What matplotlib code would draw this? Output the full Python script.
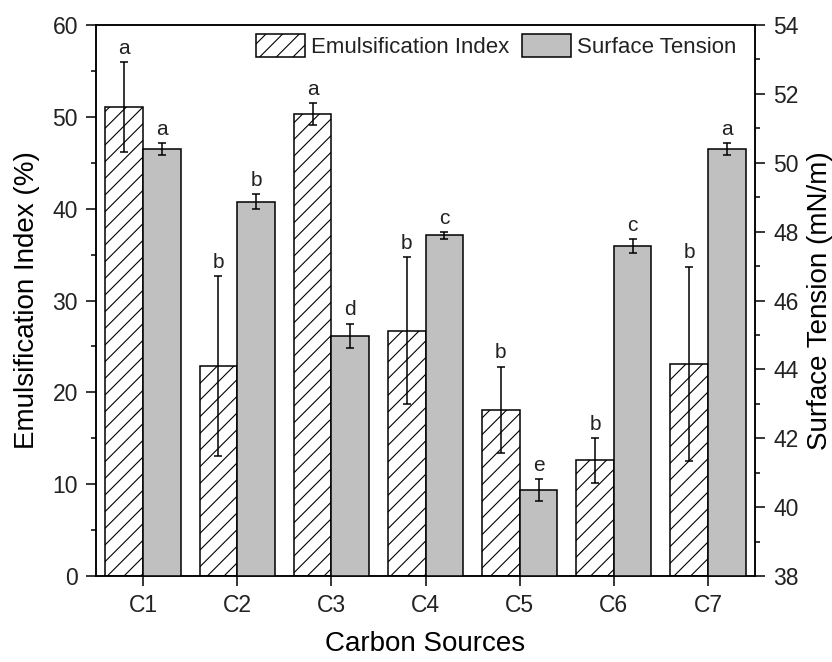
import matplotlib.pyplot as plt
import numpy as np

plt.rcParams['font.family'] = ['Liberation Sans', 'DejaVu Sans']
plt.rcParams['hatch.linewidth'] = 0.8
plt.rcParams['text.color'] = '#222222'

sources = ['C1', 'C2', 'C3', 'C4', 'C5', 'C6', 'C7']
emul_index = [51.1, 22.9, 50.3, 26.7, 18.1, 12.6, 23.1]
emul_err = [4.9, 9.8, 1.2, 8.0, 4.7, 2.45, 10.6]
surf_tension = [50.4, 48.87, 44.97, 47.89, 40.5, 47.58, 50.41]
surf_err = [0.17, 0.21, 0.36, 0.10, 0.31, 0.21, 0.17]
emul_letters = ['a', 'b', 'a', 'b', 'b', 'b', 'b']
surf_letters = ['a', 'b', 'd', 'c', 'e', 'c', 'a']

x = np.arange(1, len(sources) + 1)
w = 0.4

fig = plt.figure(figsize=(8.32, 6.62), dpi=100)
ax = fig.add_axes([0.1154, 0.1299, 0.7921, 0.8323])
ax2 = ax.twinx()

b1 = ax.bar(x - w/2, emul_index, w, color='white', edgecolor='black', hatch='//',
            linewidth=1.1, label='Emulsification Index')
ax.errorbar(x - w/2, emul_index, yerr=emul_err, fmt='none', ecolor='black',
            elinewidth=1.1, capsize=3.2, capthick=1.1)
b2 = ax2.bar(x + w/2, surf_tension, w, color='#c0c0c0', edgecolor='black',
             linewidth=1.1, label='Surface Tension')
ax2.errorbar(x + w/2, surf_tension, yerr=surf_err, fmt='none', ecolor='black',
             elinewidth=1.1, capsize=3.2, capthick=1.1)

# significance letters above each error bar
for i in range(len(sources)):
    ax.annotate(emul_letters[i], (x[i] - w/2, emul_index[i] + emul_err[i]),
                xytext=(0, 3), textcoords='offset points', ha='center',
                va='bottom', fontsize=15)
    ax2.annotate(surf_letters[i], (x[i] + w/2, surf_tension[i] + surf_err[i]),
                 xytext=(0, 3), textcoords='offset points', ha='center',
                 va='bottom', fontsize=15)

ax.set_xlim(0.5, 7.5)
ax.set_ylim(0, 60)
ax2.set_ylim(38, 54)
ax.set_xticks(x)
ax.set_xticklabels(sources)
ax.set_yticks(np.arange(0, 61, 10))
ax.set_yticks(np.arange(5, 60, 10), minor=True)
ax2.set_yticks(np.arange(38, 55, 2))
ax2.set_yticks(np.arange(39, 54, 2), minor=True)

for a in (ax, ax2):
    a.tick_params(which='major', direction='out', length=7, width=1.1,
                  labelsize=16.5, pad=6, labelcolor='#222222')
    a.tick_params(which='minor', direction='out', length=3.5, width=1.1)
    for s in a.spines.values():
        s.set_linewidth(1.1)
ax.tick_params(axis='x', which='minor', bottom=False)

ax.set_xlabel('Carbon Sources', fontsize=20, labelpad=10)
ax.set_ylabel('Emulsification Index (%)', fontsize=20, labelpad=9)
ax2.set_ylabel('Surface Tension (mN/m)', fontsize=20, labelpad=6)

ax2.legend([b1, b2], ['Emulsification Index', 'Surface Tension'],
           loc='upper right', bbox_to_anchor=(0.995, 1.012), ncol=2,
           frameon=False, fontsize=16, handlelength=2.2, handleheight=1.2,
           handletextpad=0.25, columnspacing=0.6, borderaxespad=0.3)

plt.savefig('out.png', dpi=100)
